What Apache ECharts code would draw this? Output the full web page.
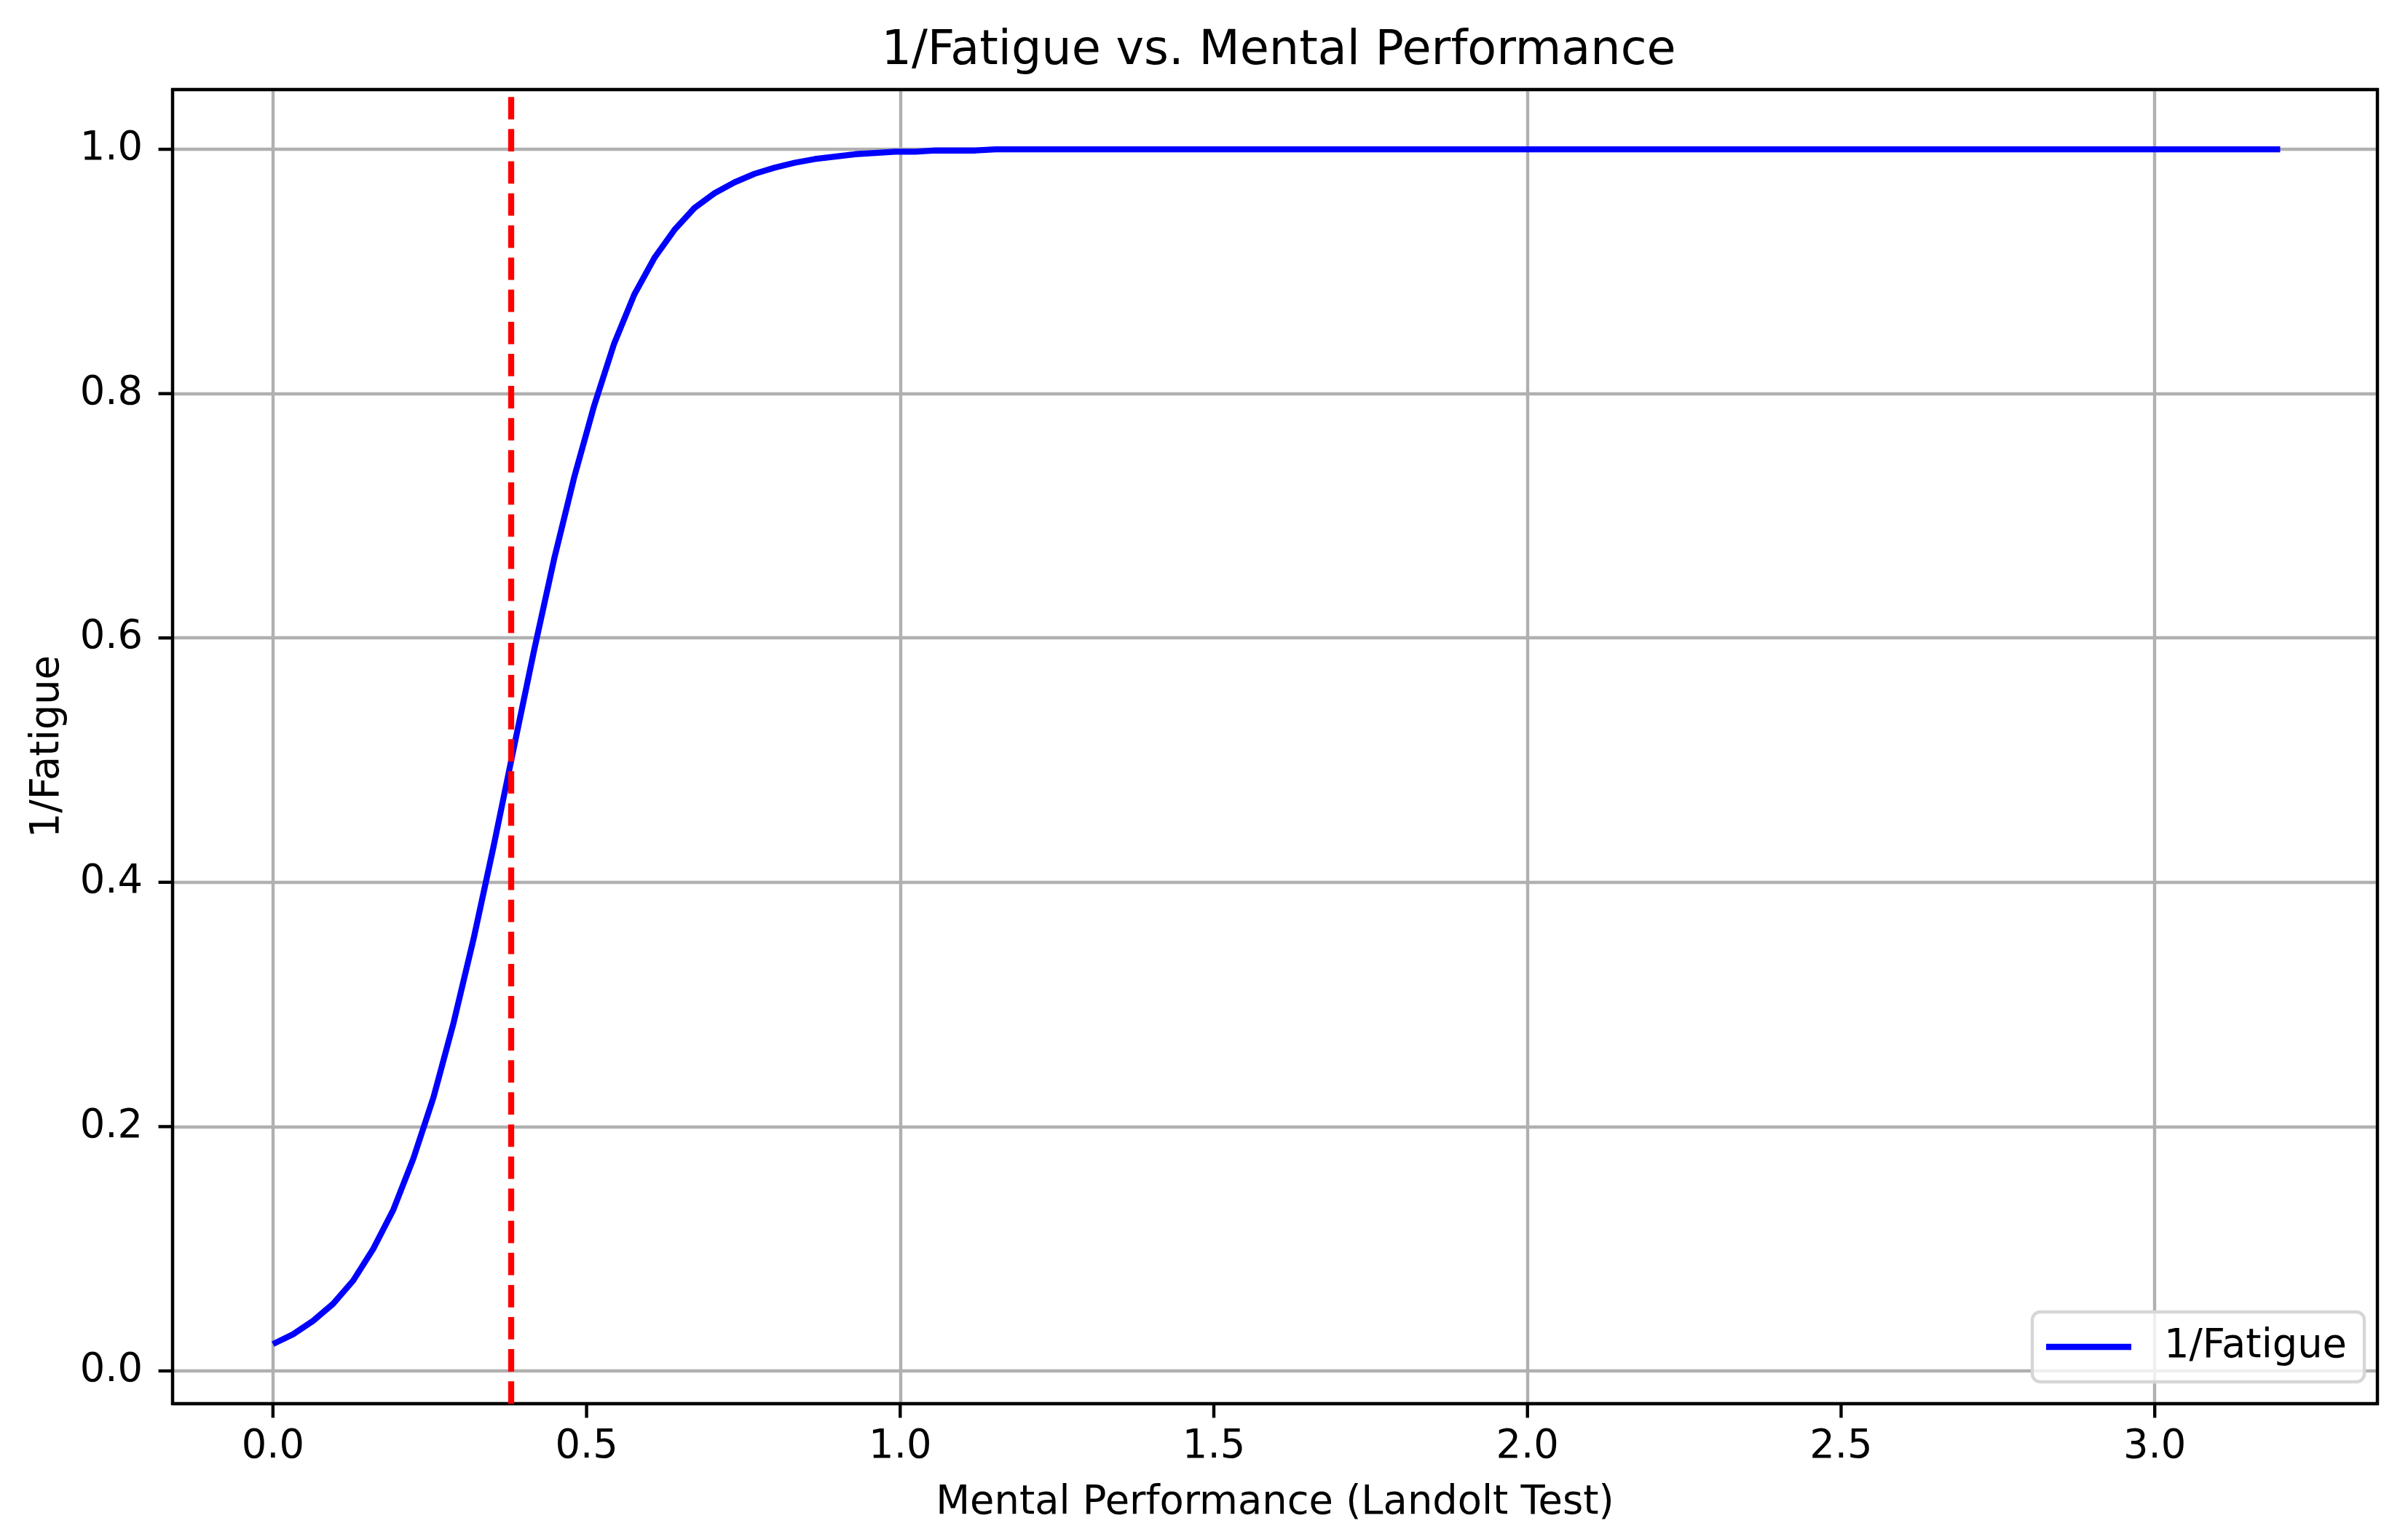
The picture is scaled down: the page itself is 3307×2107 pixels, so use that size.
<!DOCTYPE html>
<html>
<head>
<meta charset="utf-8">
<script src="https://cdn.jsdelivr.net/npm/echarts@6/dist/echarts.min.js"></script>
<style>
  html, body { margin: 0; padding: 0; background: #fff; }
  #chart { width: 3307px; height: 2107px; }
</style>
</head>
<body>
<div id="chart"></div>
<script>
// valores (x = rendimiento mental, y = 1/fatiga)
var xValores = [
  0.000, 0.032, 0.064, 0.096, 0.128, 0.160, 0.192, 0.224, 0.256, 0.288,
  0.320, 0.352, 0.384, 0.416, 0.448, 0.480, 0.512, 0.544, 0.576, 0.608,
  0.640, 0.672, 0.704, 0.736, 0.768, 0.800, 0.832, 0.864, 0.896, 0.928,
  0.960, 0.992, 1.024, 1.056, 1.088, 1.120, 1.152, 1.600, 2.000, 2.400,
  2.800, 3.200
];
var yValores = [
  0.022, 0.030, 0.041, 0.055, 0.074, 0.100, 0.132, 0.174, 0.224, 0.285,
  0.354, 0.430, 0.510, 0.589, 0.664, 0.731, 0.790, 0.841, 0.881, 0.911,
  0.934, 0.952, 0.964, 0.973, 0.980, 0.985, 0.989, 0.992, 0.994, 0.996,
  0.997, 0.998, 0.998, 0.999, 0.999, 0.999, 1.000, 1.000, 1.000, 1.000,
  1.000, 1.000
];
var umbral = 0.38; // línea roja punteada
var ticksX = [0.0, 0.5, 1.0, 1.5, 2.0, 2.5, 3.0];
var ticksY = [0.0, 0.2, 0.4, 0.6, 0.8, 1.0];

// rango de los ejes (con el margen de 5% de matplotlib)
var xMin = -0.16, xMax = 3.355;
var yMin = -0.0268, yMax = 1.0489;

var fuente = 'DejaVu Sans';
var largoTick = 19.4;
var puntos = xValores.map(function (x, i) { return [x, yValores[i]]; });

var grafica = echarts.init(document.getElementById('chart'));

// marcas de los ejes hacia afuera, ubicadas con la escala de ECharts
function serieTicks(datos, vertical) {
  return {
    type: 'custom',
    silent: true,
    clip: false,
    z: 5,
    data: datos,
    renderItem: function (params, api) {
      var p = api.coord([api.value(0), api.value(1)]);
      var fin = vertical ? [p[0], p[1] + largoTick] : [p[0] - largoTick, p[1]];
      return {
        type: 'line',
        shape: { x1: p[0], y1: p[1], x2: fin[0], y2: fin[1] },
        style: { stroke: '#000', lineWidth: 4.4 }
      };
    }
  };
}

var option = {
  animation: false,
  backgroundColor: '#fff',
  title: {
    text: '1/Fatigue vs. Mental Performance',
    left: 1751,
    textAlign: 'center',
    top: 34,
    textStyle: { fontFamily: fuente, fontSize: 65.2, fontWeight: 'normal', color: '#000' }
  },
  legend: {
    data: [{ name: '1/Fatigue', icon: 'rect' }],
    left: 2791,
    top: 1802,
    padding: [21, 24, 21, 19],
    itemWidth: 117,
    itemHeight: 8.3,
    backgroundColor: 'rgba(255,255,255,0.8)',
    borderColor: '#d6d6d6',
    borderWidth: 4.4,
    borderRadius: 11,
    textStyle: { fontFamily: fuente, fontSize: 54.3, color: '#000', padding: [0, 0, 0, 40] }
  },
  grid: {
    left: 237,
    right: 42,
    top: 123,
    bottom: 179,
    show: true,
    z: 4, // el marco negro queda encima de las líneas de la cuadrícula
    backgroundColor: 'transparent',
    borderColor: '#000',
    borderWidth: 4.4,
    outerBoundsMode: 'none'
  },
  xAxis: {
    type: 'value',
    min: xMin,
    max: xMax,
    name: 'Mental Performance (Landolt Test)',
    nameLocation: 'middle',
    nameGap: 110,
    nameTextStyle: { fontFamily: fuente, fontSize: 54.3, color: '#000' },
    axisLine: { show: false, onZero: false },
    axisTick: { show: false },
    axisLabel: {
      customValues: ticksX, margin: 33,
      fontFamily: fuente, fontSize: 54.3, color: '#000',
      formatter: function (v) { return v.toFixed(1); }
    },
    splitLine: { show: true, lineStyle: { color: '#b0b0b0', width: 4.4 } }
  },
  yAxis: {
    type: 'value',
    min: yMin,
    max: yMax,
    name: '1/Fatigue',
    nameLocation: 'middle',
    nameRotate: 90,
    nameGap: 144,
    nameTextStyle: { fontFamily: fuente, fontSize: 54.3, color: '#000' },
    axisLine: { show: false, onZero: false },
    axisTick: { show: false },
    axisLabel: {
      customValues: ticksY, margin: 41,
      fontFamily: fuente, fontSize: 54.3, color: '#000',
      formatter: function (v) { return v.toFixed(1); }
    },
    splitLine: { show: true, lineStyle: { color: '#b0b0b0', width: 4.4 } }
  },
  series: [
    {
      name: '1/Fatigue',
      type: 'line',
      data: puntos,
      symbol: 'none',
      itemStyle: { color: '#0000ff' },
      lineStyle: { color: '#0000ff', width: 8.3 },
      markLine: {
        silent: true,
        symbol: 'none',
        label: { show: false },
        lineStyle: { color: '#ff0000', width: 8.3, type: [30.8, 13.3], opacity: 1 },
        emphasis: { disabled: true },
        data: [{ xAxis: umbral }]
      }
    },
    serieTicks(ticksX.map(function (v) { return [v, yMin]; }), true),
    serieTicks(ticksY.map(function (v) { return [xMin, v]; }), false)
  ]
};

grafica.setOption(option);
</script>
</body>
</html>
